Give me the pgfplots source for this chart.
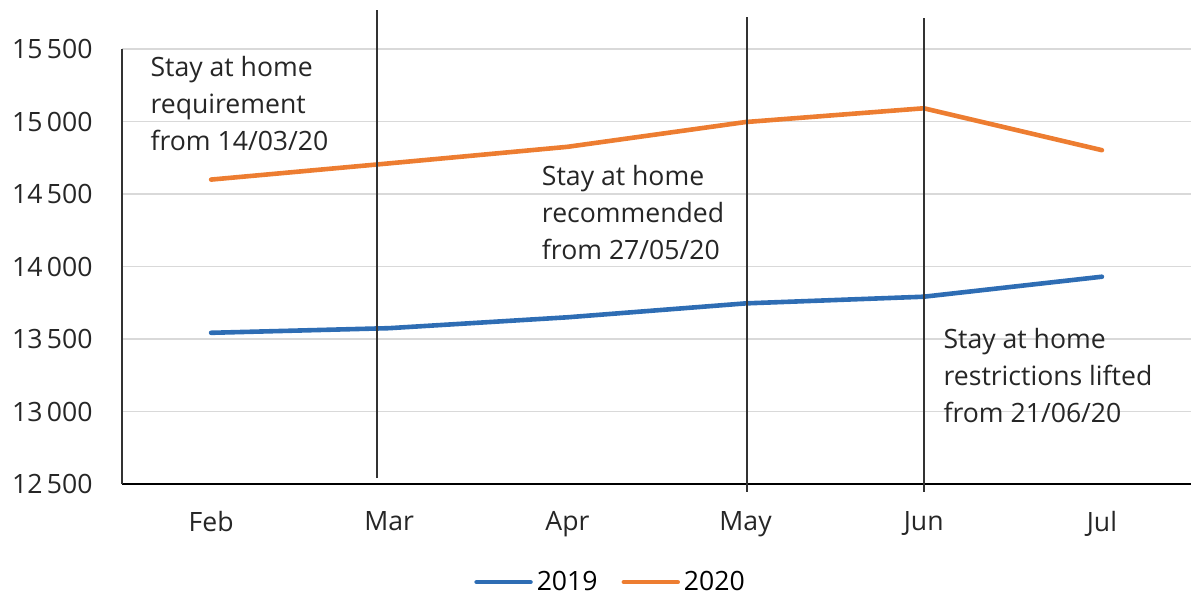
\documentclass[border=0pt]{standalone}
\usepackage{pgfplots}
\pgfplotsset{compat=1.18}
\usepackage{fontspec}
\setmainfont{Open Sans}
\definecolor{c19}{HTML}{2E6DB4}
\definecolor{c20}{HTML}{ED7D31}
\definecolor{gridc}{HTML}{D9D9D9}
\definecolor{vline}{HTML}{333333}
\begin{document}
\begin{tikzpicture}
\path[use as bounding box] (0,0) rectangle (595.5bp,298.5bp);
\begin{axis}[
  at={(61bp,56.5bp)}, anchor=south west,
  scale only axis, width=534.5bp, height=237bp,
  xmin=-0.5, xmax=5.5, ymin=12500, ymax=15770,
  scaled ticks=false,
  axis line style={draw=none},
  xtick={0,1,2,3,4,5},
  xticklabels={Feb,Mar,Apr,May,Jun,Jul},
  ytick={12500,13000,13500,14000,14500,15000,15500},
  yticklabels={12\,500,13\,000,13\,500,14\,000,14\,500,15\,000,15\,500},
  major tick length=0pt,
  tick label style={font=\fontsize{13.3bp}{16bp}\selectfont, text=black!85},
  yticklabel style={inner sep=0pt, xshift=-14.5bp},
  xticklabel style={inner sep=0pt, yshift=-13.5bp},
  ymajorgrids, grid style={gridc, line width=0.8bp},
  clip=false,
  legend style={at={(0.458,-0.207)}, anchor=center, draw=none, fill=none,
    font=\fontsize{13.3bp}{16bp}\selectfont, legend columns=2,
    /tikz/every even column/.append style={column sep=10bp},
    inner sep=0pt},
  legend image code/.code={\draw[#1, line width=2.2bp] (0,0) -- (27bp,0);},
]
\addplot[c19, line width=2.3bp, line join=round, line cap=round] coordinates {
 (0,13543) (1,13575) (2,13650) (3,13746) (4,13792) (5,13930)};
\addlegendentry{2019}
\addplot[c20, line width=2.3bp, line join=round, line cap=round] coordinates {
 (0,14600) (1,14712) (2,14826) (3,14997) (4,15092) (5,14803)};
\addlegendentry{2020}
% axis lines
\draw[black, line width=1.2bp] (axis cs:-0.5,12500) -- (axis cs:5.5,12500);
\draw[black!80, line width=0.8bp] (axis cs:-0.5,12500) -- (axis cs:-0.5,15500);
% event lines
\draw[vline, line width=0.8bp] (axis cs:0.930,12541) -- (axis cs:0.930,15769);
\draw[vline, line width=0.8bp] (axis cs:3.007,12445) -- (axis cs:3.007,15721);
\draw[vline, line width=0.8bp] (axis cs:4.002,12445) -- (axis cs:4.002,15714);
% annotations
\node[anchor=north west, inner sep=0pt, align=left, text=black!85,
  font=\fontsize{13.3bp}{18.5bp}\selectfont] at (axis cs:-0.342,15450)
  {Stay at home\\requirement\\from 14/03/20};
\node[anchor=north west, inner sep=0pt, align=left, text=black!85,
  font=\fontsize{13.3bp}{18.5bp}\selectfont] at (axis cs:1.855,14698)
  {Stay at home\\recommended\\from 27/05/20};
\node[anchor=north west, inner sep=0pt, align=left, text=black!85,
  font=\fontsize{13.3bp}{18.5bp}\selectfont] at (axis cs:4.109,13574)
  {Stay at home\\restrictions lifted\\from 21/06/20};
\end{axis}
\end{tikzpicture}
\end{document}
